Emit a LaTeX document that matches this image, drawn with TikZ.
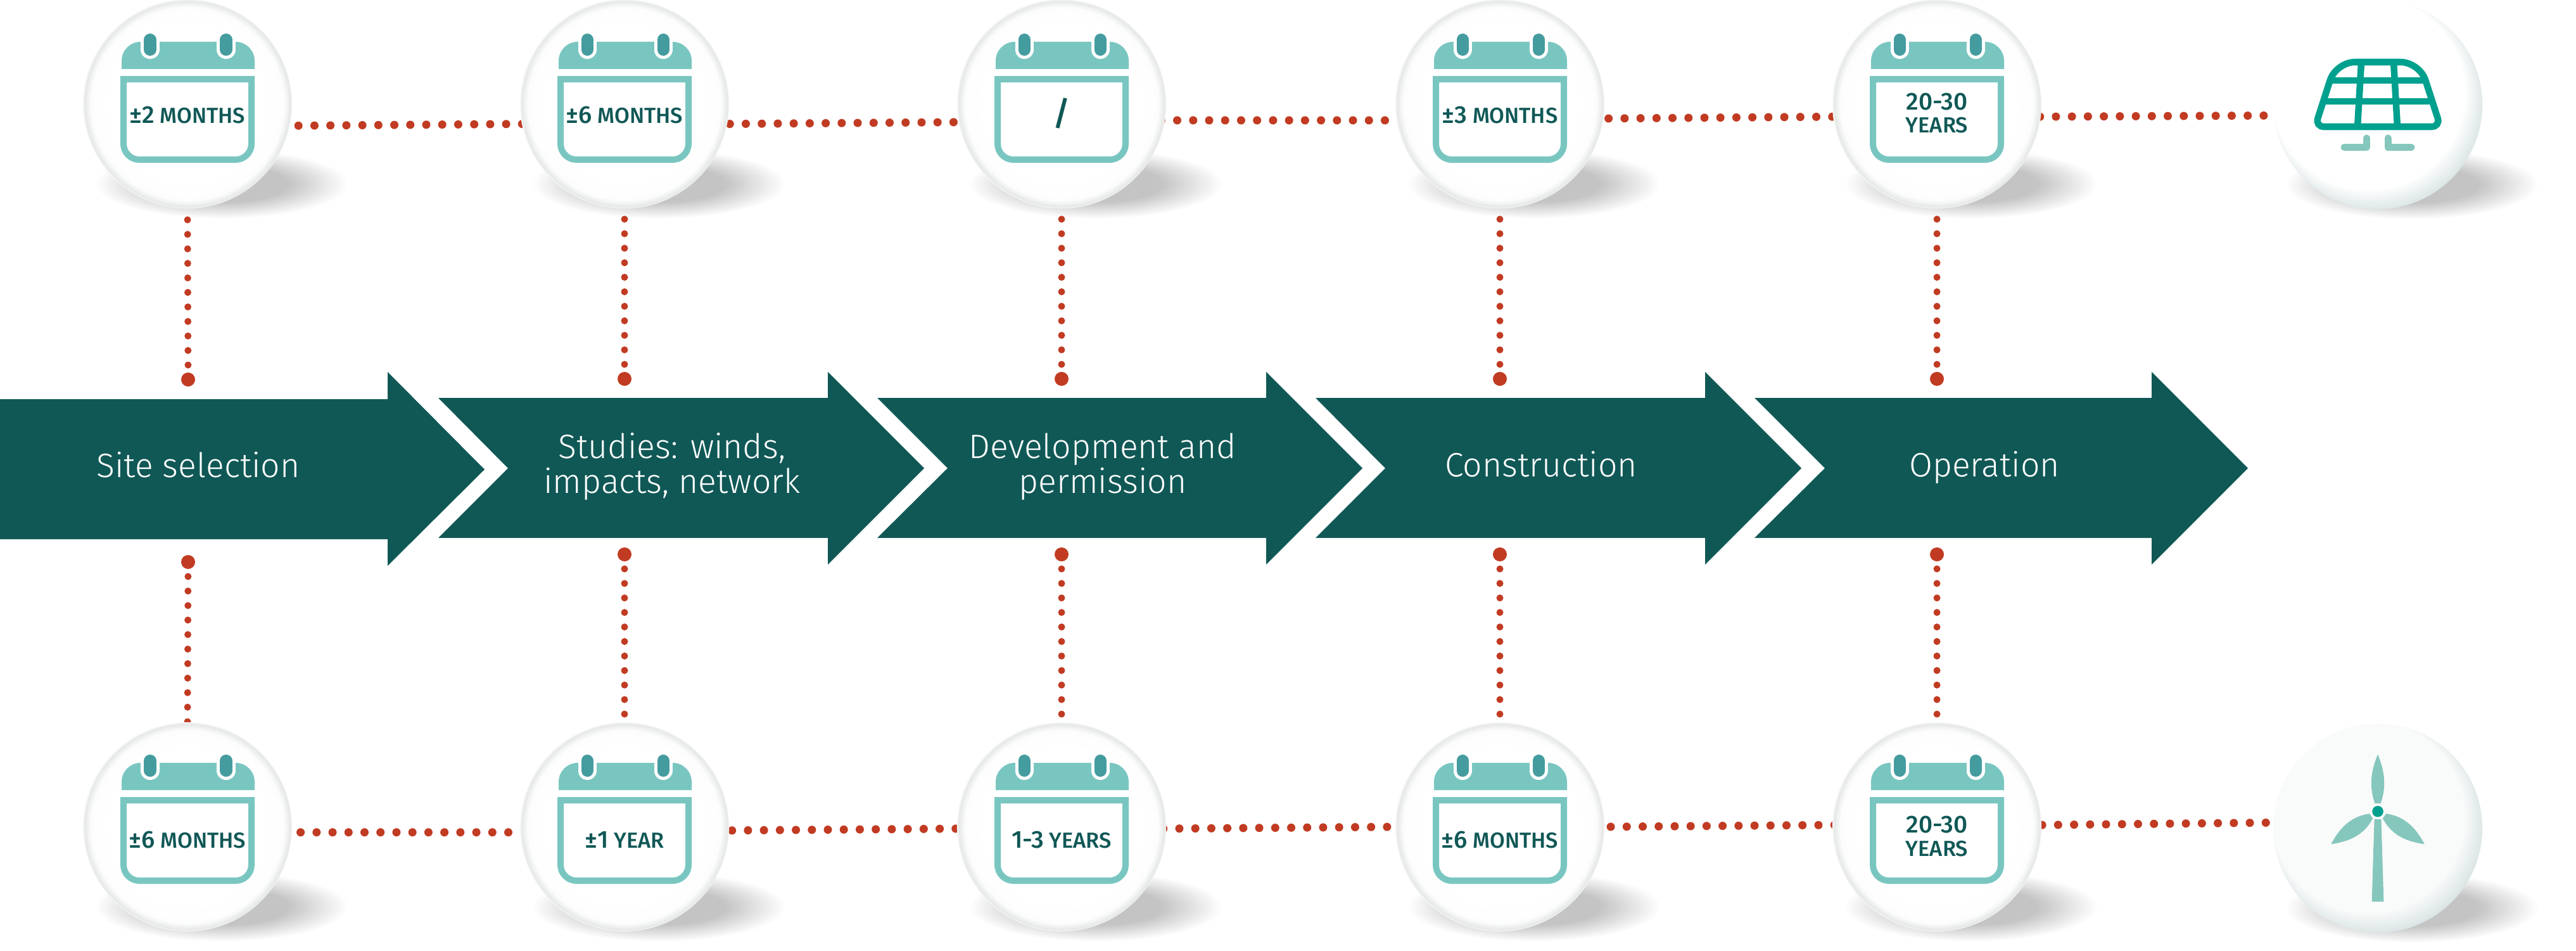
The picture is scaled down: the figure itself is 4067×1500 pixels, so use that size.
\documentclass[tikz,border=0pt]{standalone}
\usepackage{fontspec}
\setmainfont{Fira Sans}
\newfontfamily\stagefont{Fira Sans Light}
\newfontfamily\calfont{Fira Sans Medium}
\usetikzlibrary{backgrounds}

\definecolor{stagegreen}{HTML}{105856}
\definecolor{dotred}{HTML}{C13B22}
\definecolor{calteal}{HTML}{79C6C1}
\definecolor{ringteal}{HTML}{459C9F}
\definecolor{iconteal}{HTML}{00A08E}
\definecolor{iconpale}{HTML}{85C7BC}
\definecolor{rimgrey}{HTML}{E6E8E8}
\definecolor{rimtint}{HTML}{CFDCDC}
\definecolor{shadowgrey}{HTML}{C4C4C4}
\definecolor{windwhite}{HTML}{F9FAFA}

\pgfdeclareradialshading{calball}{\pgfpoint{0bp}{0bp}}{color(0bp)=(white); color(18.5bp)=(white); color(23bp)=(white!92!rimgrey); color(24.6bp)=(rimgrey); color(25bp)=(white!70!rimgrey); color(50bp)=(white!70!rimgrey)}
\pgfdeclareradialshading{solarball}{\pgfpoint{-10bp}{12bp}}{color(0bp)=(white); color(23bp)=(white); color(28bp)=(rimtint); color(30bp)=(rimtint)}
\pgfdeclareradialshading{windball}{\pgfpoint{-10bp}{12bp}}{color(0bp)=(windwhite); color(23bp)=(windwhite); color(28bp)=(rimtint); color(30bp)=(rimtint)}
\pgfdeclareradialshading{softshadow}{\pgfpoint{0bp}{0bp}}{color(0bp)=(shadowgrey); color(13bp)=(shadowgrey); color(25bp)=(white); color(50bp)=(white)}

\tikzset{
  ball/.style={circle,minimum size=3.3cm,inner sep=0pt,shading=calball},
  shadowblob/.style={shading=softshadow},
  bigdot/.style={circle,fill=dotred,minimum size=.22cm,inner sep=0pt},
  vdots/.style={dotred,line width=.11cm,line cap=round,dash pattern=on 0pt off .229cm},
  hdots/.style={dotred,line width=.13cm,line cap=round,dash pattern=on 0pt off .2521cm},
  stage/.style={fill=stagegreen},
  stagetext/.style={white,align=center,anchor=base,inner sep=0pt,font=\stagefont\fontsize{15.2}{15.6}\selectfont},
  caltext/.style={stagegreen,anchor=base,inner sep=0pt,font=\calfont\fontsize{9.8}{10}\selectfont}
}
\newcommand{\bignum}[1]{{\fontsize{11}{10}\selectfont #1}}
\newcommand{\calicon}[1]{
  \begin{scope}[shift={(#1)}]
    \fill [calteal] (-104,-55) [rounded corners=.3cm] -- (-104,-98) -- (106,-98) [sharp corners] -- (106,-55) -- cycle;
    \draw [calteal,line width=.1cm,fill=white] (-101,-39) [rounded corners=.25cm] -- (-101,88) -- (101,88) [sharp corners] -- (101,-39) -- cycle;
    \draw [white,line width=.29cm,line cap=round] (-59,-110) -- (-59,-85.5);
    \draw [white,line width=.29cm,line cap=round] (61,-110) -- (61,-85.5);
    \draw [ringteal,line width=.19cm,line cap=round] (-59,-101.5) -- (-59,-85.5);
    \draw [ringteal,line width=.19cm,line cap=round] (61,-101.5) -- (61,-85.5);
  \end{scope}
}

\begin{document}
\begin{tikzpicture}[x=.01cm,y=-.01cm]
  \useasboundingbox (0,0) rectangle (4067,1500);

  \node [ball] (t1) at (296,164) {};
  \node [ball] (t2) at (986,164) {};
  \node [ball] (t3) at (1676,164) {};
  \node [ball] (t4) at (2368,164) {};
  \node [ball] (t5) at (3058,164) {};
  \node [ball,shading=solarball] (solar) at (3754,165) {};
  \node [ball] (b1) at (296,1305) {};
  \node [ball] (b2) at (986,1305) {};
  \node [ball] (b3) at (1676,1305) {};
  \node [ball] (b4) at (2368,1305) {};
  \node [ball] (b5) at (3058,1305) {};
  \node [ball,shading=windball] (wind) at (3754,1307) {};

  \node [bigdot] (dt1) at (297,599) {};
  \node [bigdot] (dt2) at (986,598) {};
  \node [bigdot] (dt3) at (1676,598) {};
  \node [bigdot] (dt4) at (2368,598) {};
  \node [bigdot] (dt5) at (3058,598) {};
  \node [bigdot] (db1) at (297,887) {};
  \node [bigdot] (db2) at (986,875) {};
  \node [bigdot] (db3) at (1676,875) {};
  \node [bigdot] (db4) at (2368,875) {};
  \node [bigdot] (db5) at (3058,875) {};

  \begin{pgfonlayer}{background}
    \shade [shadowblob] (350,290) ellipse (200 and 55);
    \shade [shadowblob] (1040,290) ellipse (200 and 55);
    \shade [shadowblob] (1730,290) ellipse (200 and 55);
    \shade [shadowblob] (2422,290) ellipse (200 and 55);
    \shade [shadowblob] (3112,290) ellipse (200 and 55);
    \shade [shadowblob] (3808,291) ellipse (200 and 55);
    \shade [shadowblob] (350,1431) ellipse (200 and 55);
    \shade [shadowblob] (1040,1431) ellipse (200 and 55);
    \shade [shadowblob] (1730,1431) ellipse (200 and 55);
    \shade [shadowblob] (2422,1431) ellipse (200 and 55);
    \shade [shadowblob] (3112,1431) ellipse (200 and 55);
    \shade [shadowblob] (3808,1433) ellipse (200 and 55);

    \draw [vdots] (dt1.center) -- (t1.south);
    \draw [vdots] (dt2.center) -- (t2.south);
    \draw [vdots] (dt3.center) -- (t3.south);
    \draw [vdots] (dt4.center) -- (t4.south);
    \draw [vdots] (dt5.center) -- (t5.south);
    \draw [vdots] (db1.center) -- (b1.north);
    \draw [vdots] (db2.center) -- (b2.north);
    \draw [vdots] (db3.center) -- (b3.north);
    \draw [vdots] (db4.center) -- (b4.north);
    \draw [vdots] (db5.center) -- (b5.north);

    \draw [hdots,dash phase=.122cm] (t1.-12.6) -- (t2.191.9) -- (t2.-11.3) -- (t3.190.6) -- (t3.-9.95) -- (t4.189.2) -- (t4.-8.6) -- (t5.187.9) -- (t5.-7.3) -- (solar.186.5);
    \draw [hdots,dash phase=.122cm] (b1.-3.8) -- (b2.183.2) -- (b2.-2.6) -- (b3.181.9) -- (b3.-1.35) -- (b4.180.7) -- (b4.-.1) -- (b5.179.45) -- (b5.1.15) -- (wind.177.5);
  \end{pgfonlayer}

  \fill [stage] (0,630) -- (612,630) -- (612,587) -- (765,741) -- (612,893) -- (612,851) -- (0,851) -- cycle;
  \fill [stage] (692,628) -- (1307,628) -- (1307,587) -- (1459,739) -- (1307,891) -- (1307,849) -- (692,849) -- (802,739) -- cycle;
  \fill [stage] (1385,628) -- (1999,628) -- (1999,587) -- (2151,739) -- (1999,891) -- (1999,849) -- (1385,849) -- (1496,739) -- cycle;
  \fill [stage] (2077,628) -- (2692,628) -- (2692,587) -- (2844,739) -- (2692,891) -- (2692,849) -- (2077,849) -- (2187,739) -- cycle;
  \fill [stage] (2770,628) -- (3397,628) -- (3397,587) -- (3549,739) -- (3397,891) -- (3397,849) -- (2770,849) -- (2881,739) -- cycle;

  \node [stagetext] (s1) at (313,753) {Site selection};
  \node [stagetext] (s2) at (1061,778) {Studies: winds,\\impacts, network};
  \node [stagetext] (s3) at (1741,778) {Development and\\permission};
  \node [stagetext] (s4) at (2433,752) {Construction};
  \node [stagetext] (s5) at (3133,752) {Operation};

  \calicon{296,164}
  \calicon{986,164}
  \calicon{1676,164}
  \calicon{2368,164}
  \calicon{3058,164}
  \calicon{296,1302}
  \calicon{986,1302}
  \calicon{1676,1302}
  \calicon{2368,1302}
  \calicon{3058,1302}

  \node [caltext] (c1) at (296,195) {\bignum{±2} MONTHS};
  \node [caltext] (c2) at (986,195) {\bignum{±6} MONTHS};
  \node [caltext,font=\calfont\fontsize{15}{15}\selectfont] (c3) at (1676,198) {/};
  \node [caltext] (c4) at (2368,195) {\bignum{±3} MONTHS};
  \node [caltext] (c5) at (3058,173) {\bignum{20-30}};
  \node [caltext] (c6) at (3058,209) {YEARS};
  \node [caltext] (c7) at (296,1338) {\bignum{±6} MONTHS};
  \node [caltext] (c8) at (986,1338) {\bignum{±1} YEAR};
  \node [caltext] (c9) at (1676,1338) {\bignum{1-3} YEARS};
  \node [caltext] (c10) at (2368,1338) {\bignum{±6} MONTHS};
  \node [caltext] (c11) at (3058,1314) {\bignum{20-30}};
  \node [caltext] (c12) at (3058,1351) {YEARS};

  % solar panel
  \draw [iconteal,line width=.105cm] (3754,200) [rounded corners=.14cm] -- (3655,200) [rounded corners=.3cm] -- (3688,98) -- (3820,98) [rounded corners=.14cm] -- (3853,200) -- cycle;
  \draw [iconteal,line width=.105cm] (3680,127) -- (3828,127);
  \draw [iconteal,line width=.105cm] (3668,160) -- (3840,160);
  \draw [iconteal,line width=.105cm] (3728,98) -- (3722,200);
  \draw [iconteal,line width=.105cm] (3779,98) -- (3785,200);
  \draw [iconpale,line width=.11cm,line cap=round,line join=round] (3701,232.5) -- (3736.5,232.5) -- (3736.5,218);
  \draw [iconpale,line width=.11cm,line cap=round,line join=round] (3807,232.5) -- (3770,232.5) -- (3770,218);

  % wind turbine
  \fill [iconpale] (3748.6,1293) -- (3759.4,1293) -- (3763.4,1423) -- (3744.6,1423) -- cycle;
  \fill [iconpale] (3749.4,1268) .. controls (3741.5,1245) and (3741,1222) .. (3754,1190.7) .. controls (3767,1222) and (3766.5,1245) .. (3758.6,1268) -- cycle;
  \fill [iconpale,rotate around={125:(3754,1280.7)}] (3749.4,1268) .. controls (3738,1245) and (3738,1222) .. (3754,1190.7) .. controls (3770,1222) and (3770,1245) .. (3758.6,1268) -- cycle;
  \fill [iconpale,rotate around={-125:(3754,1280.7)}] (3749.4,1268) .. controls (3738,1245) and (3738,1222) .. (3754,1190.7) .. controls (3770,1222) and (3770,1245) .. (3758.6,1268) -- cycle;
  \fill [windwhite] (3754,1280.7) circle (12.5);
  \fill [iconteal] (3754,1280.7) circle (8.8);
\end{tikzpicture}
\end{document}
